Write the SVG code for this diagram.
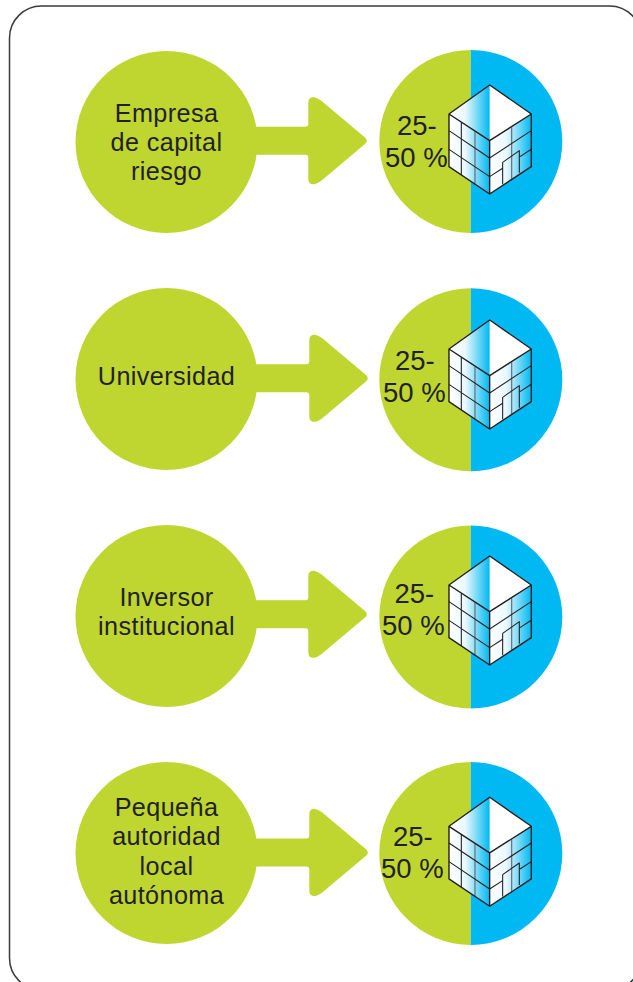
<svg xmlns="http://www.w3.org/2000/svg" width="633" height="982" viewBox="0 0 633 982">
<style>
.g{fill:#bed62f}
.b{fill:#00b9f2}
.t{font-family:"Liberation Sans",Arial,sans-serif;font-size:25.2px;letter-spacing:.4px;fill:#231f20;text-anchor:middle}
.p{font-family:"Liberation Sans",Arial,sans-serif;font-size:27.5px;fill:#231f20}
.o{fill:none;stroke:#231f20;stroke-width:3.2;stroke-linejoin:round}
.e{fill:none;stroke:#231f20;stroke-width:4.2;stroke-linejoin:round}
.m{fill:none;stroke:#6b7780;stroke-width:4}
</style>
<defs>
<linearGradient id="lg" gradientUnits="userSpaceOnUse" x1="237" y1="0" x2="359" y2="0"><stop offset="0" stop-color="#fff"/><stop offset=".4" stop-color="#eaf8fe"/><stop offset="1" stop-color="#00b9f2"/></linearGradient>
<linearGradient id="rg" gradientUnits="userSpaceOnUse" x1="359" y1="0" x2="484" y2="0"><stop offset="0" stop-color="#fff"/><stop offset=".4" stop-color="#eaf8fe"/><stop offset="1" stop-color="#00b9f2"/></linearGradient>
<path id="arrow" class="g" d="M-70-14H-3Q0-14 0-17V-38Q0-44 6-43.5Q9-43 13-40L57-3Q60 0 57 3L13 40Q9 43 6 43.5Q0 44 0 38V17Q0 14-3 14H-70Z"/>
<g id="pie"><path class="g" d="M0-91.5A91.5 91.5 0 0 0 0 91.5Z"/><path class="b" d="M0-91.5A91.5 91.5 0 0 1 0 91.5Z"/></g>
<g id="bld" transform="scale(.3333)">
<path d="M237 222L359 135V302Z" fill="url(#lg)"/>
<path d="M359 135L484 222L359 302Z" fill="#fff"/>
<path d="M237 222L359 302V462L237 380Z" fill="url(#lg)"/>
<path d="M359 302L484 222V380L359 462Z" fill="url(#rg)"/>
<path class="m" d="M315 274V434M425 262V420"/>
<path class="o" d="M274 247V405M237 272L359 354M237 328L359 410M359 354L484 272M359 410L398 385M450 350L484 328M398 367L448 332V398M398 367V433"/>
<path class="e" d="M359 135L484 222V380L359 462L237 380V222ZM237 222L359 302L484 222M359 302V462"/>
</g>
</defs>
<rect x="9.5" y="6" width="632" height="984" rx="32" fill="#fff" stroke="#3a3a3c" stroke-width="1.5"/>
<g id="connectors">
<use href="#arrow" x="308.3" y="140.8"/>
<use href="#arrow" x="309.3" y="378.3"/>
<use href="#arrow" x="308.3" y="614.3"/>
<use href="#arrow" x="309.3" y="852.4"/>
</g>
<g id="node-source-1"><circle class="g" cx="166.5" cy="142" r="91"/><text class="t" x="166.5" y="122">Empresa</text><text class="t" x="166.5" y="151">de capital</text><text class="t" x="166.5" y="180">riesgo</text></g>
<g id="node-source-2"><circle class="g" cx="166.5" cy="379" r="91"/><text class="t" x="166.5" y="385">Universidad</text></g>
<g id="node-source-3"><circle class="g" cx="166.5" cy="616" r="91"/><text class="t" x="166.5" y="606">Inversor</text><text class="t" x="166.5" y="635">institucional</text></g>
<g id="node-source-4"><circle class="g" cx="166.5" cy="853" r="91"/><text class="t" x="166.5" y="816">Pequeña</text><text class="t" x="166.5" y="845">autoridad</text><text class="t" x="166.5" y="875">local</text><text class="t" x="166.5" y="904">autónoma</text></g>
<g id="node-target-1"><use href="#pie" x="470.8" y="141.4"/><use href="#bld" transform="translate(370 40)"/><text class="p" x="397" y="135">25-</text><text class="p" x="385" y="167">50 %</text></g>
<g id="node-target-2"><use href="#pie" x="470.8" y="379.7"/><use href="#bld" transform="translate(370 275)"/><text class="p" x="395" y="370">25-</text><text class="p" x="383" y="402">50 %</text></g>
<g id="node-target-3"><use href="#pie" x="470.8" y="617"/><use href="#bld" transform="translate(370 511)"/><text class="p" x="394.5" y="603">25-</text><text class="p" x="382" y="635">50 %</text></g>
<g id="node-target-4"><use href="#pie" x="470.8" y="853.4"/><use href="#bld" transform="translate(370 752.3)"/><text class="p" x="393" y="846">25-</text><text class="p" x="381" y="878">50 %</text></g>
</svg>
